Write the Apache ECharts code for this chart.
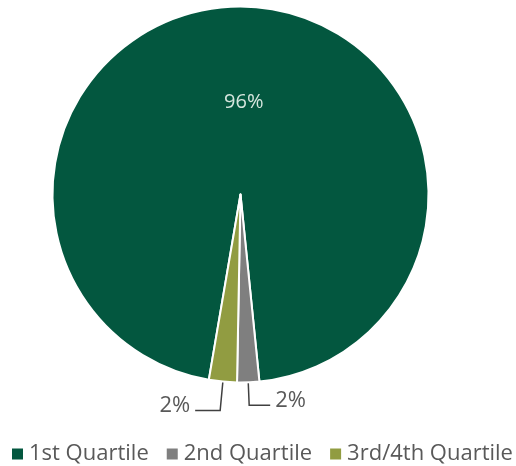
<!DOCTYPE html>
<html>
<head>
<meta charset="utf-8">
<style>html,body{margin:0;padding:0;background:#fff;}#c{width:516px;height:466px;}</style>
<script src="https://cdn.jsdelivr.net/npm/echarts@6/dist/echarts.min.js"></script>
</head>
<body>
<div id="c"></div>
<script>
const categories = ['1st Quartile', '2nd Quartile', '3rd/4th Quartile'];
const values = [95.7, 1.9, 2.4];
const colors = ['#03573F', '#7F7F7F', '#919C41'];

const chart = echarts.init(document.getElementById('c'), null, {renderer: 'canvas'});
const FONT = '"Open Sans", sans-serif';

const data = categories.map((name, i) => {
  const item = {name: name, value: values[i], itemStyle: {color: colors[i]}};
  if (i === 0) {
    item.label = {position: 'inside', color: '#D6E6DE', fontSize: 20};
  } else if (i === 1) {
    item.labelLine = {length: 23, length2: 21};
  } else {
    item.labelLine = {length: 29, length2: 25};
  }
  return item;
});

chart.setOption({
  animation: false,
  color: colors,
  legend: {
    data: categories,
    top: 443,
    left: 12,
    width: 560,
    padding: 0,
    icon: 'rect',
    itemWidth: 11,
    itemHeight: 11,
    itemGap: 18,
    itemStyle: {borderWidth: 0},
    textStyle: {fontFamily: FONT, fontSize: 22, color: '#595959', padding: [0, 0, 0, 1]}
  },
  series: [{
    type: 'pie',
    center: [240.5, 194.5],
    radius: 188,
    startAngle: 260.3,
    clockwise: true,
    avoidLabelOverlap: false,
    itemStyle: {borderColor: '#ffffff', borderWidth: 2},
    label: {
      show: true,
      position: 'outside',
      fontFamily: FONT,
      fontSize: 22,
      color: '#595959',
      formatter: p => Math.round(p.percent) + '%'
    },
    labelLayout: p => (p.dataIndex === 0 ? {dy: 5} : {dy: -5}),
    labelLine: {show: true, smooth: false, lineStyle: {color: '#404040', width: 1.5}},
    emphasis: {disabled: true},
    data: data
  }]
});
</script>
</body>
</html>
